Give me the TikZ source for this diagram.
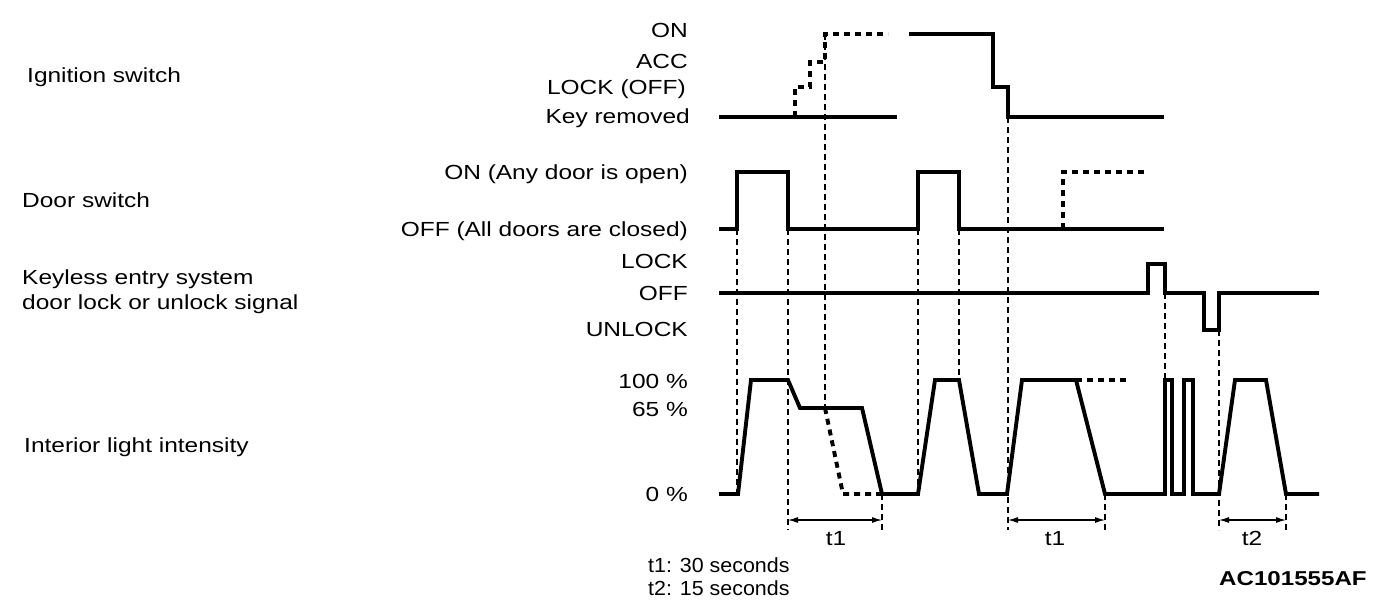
\documentclass[tikz,border=0pt]{standalone}
\usepackage{fontspec}
\setmainfont{Liberation Sans}[FakeStretch=1.2]
\newfontfamily\notefont{Liberation Sans}[FakeStretch=1.05]
\usetikzlibrary{arrows.meta}
\begin{document}
\begin{tikzpicture}[x=1pt,y=-1pt,
  sig/.style={line width=3.9pt, line join=miter, line cap=butt},
  sigdash/.style={line width=3.9pt, dash pattern=on 6pt off 5pt},
  guide/.style={line width=1.1pt, dash pattern=on 6pt off 4pt},
  dimline/.style={line width=1.1pt, {Latex[length=10pt,width=6pt]}-{Latex[length=10pt,width=6pt]}},
  txt/.style={inner sep=0pt, text height=14.6pt, text depth=0pt, font=\fontsize{20.4}{24}\selectfont},
  lvl/.style={txt, anchor=east},
  lab/.style={txt, anchor=west},
  note/.style={lab, font=\fontsize{20.4}{24}\notefont}]
\fill[white] (0,0) rectangle (1376,606);
\useasboundingbox (0,0) rectangle (1376,606);

% left labels
\node[lab] (ign) at (27,75) {Ignition switch};
\node[lab] (door) at (22,200) {Door switch};
\node[lab] (key1) at (22,277) {Keyless entry system};
\node[lab] (key2) at (22,302) {door lock or unlock signal};
\node[lab] (lite) at (24,445) {Interior light intensity};

% level labels
\node[lvl] (ion) at (688,30) {ON};
\node[lvl] (iacc) at (688,61) {ACC};
\node[lvl] (ilock) at (686,87) {LOCK (OFF)};
\node[lvl] (ikey) at (690,116) {Key removed};
\node[lvl] (don) at (688,172) {ON (Any door is open)};
\node[lvl] (doff) at (688,229) {OFF (All doors are closed)};
\node[lvl] (klock) at (688,261) {LOCK};
\node[lvl] (koff) at (688,293) {OFF};
\node[lvl] (kunl) at (688,329) {UNLOCK};
\node[lvl] (l100) at (688,381) {100 \%};
\node[lvl] (l65) at (688,409) {65 \%};
\node[lvl] (l0) at (688,494) {0 \%};

% ignition switch
\draw[sig] (719,117) -- (897,117);
\draw[sigdash] (795,117) -- (795,87) -- (810,87) -- (810,62) -- (825,62) -- (825,34) -- (888,34);
\draw[sig] (909,34) -- (993,34) -- (993,87) -- (1008,87) -- (1008,117) -- (1164,117);

% door switch
\draw[sig] (719,229) -- (737,229) -- (737,172) -- (788,172) -- (788,229) -- (918,229) -- (918,172) -- (959,172) -- (959,229) -- (1164,229);
\draw[sigdash] (1063,229) -- (1063,172) -- (1148,172);

% keyless entry
\draw[sig] (719,293) -- (1148,293) -- (1148,264) -- (1165,264) -- (1165,293) -- (1204,293) -- (1204,330) -- (1219,330) -- (1219,293) -- (1319,293);

% interior light
\draw[sig] (719,494) -- (738,494) -- (751,380) -- (788,380) -- (800,408) -- (862,408) -- (882,494) -- (918,494) -- (935,380) -- (959,380) -- (979,494) -- (1007,494) -- (1022,380) -- (1076,380) -- (1105,494) -- (1165,494) -- (1165,380) -- (1172,380) -- (1172,494) -- (1184,494) -- (1184,380) -- (1193,380) -- (1193,494) -- (1219,494) -- (1235,380) -- (1266,380) -- (1286,494) -- (1319,494);
\draw[sigdash] (825,408) -- (843,494) -- (882,494);
\draw[sigdash] (1076,380) -- (1130,380);

% guide lines
\draw[guide] (737,229) -- (737,494);
\draw[guide] (788,229) -- (788,530);
\draw[guide] (825,34) -- (825,408);
\draw[guide] (882,494) -- (882,530);
\draw[guide] (918,229) -- (918,494);
\draw[guide] (959,229) -- (959,380);
\draw[guide] (1008,117) -- (1008,530);
\draw[guide] (1105,494) -- (1105,530);
\draw[guide] (1165,293) -- (1165,380);
\draw[guide] (1219,330) -- (1219,530);
\draw[guide] (1286,494) -- (1286,530);

% dimensions
\coordinate (a1) at (788,520);
\coordinate (b1) at (882,520);
\coordinate (a2) at (1008,520);
\coordinate (b2) at (1105,520);
\coordinate (a3) at (1219,520);
\coordinate (b3) at (1286,520);
\draw[dimline] (a1) -- (b1);
\draw[dimline] (a2) -- (b2);
\draw[dimline] (a3) -- (b3);
\node[txt, anchor=center] (t1a) at (836,538) {t1};
\node[txt, anchor=center] (t1b) at (1055,538) {t1};
\node[txt, anchor=center] (t2a) at (1252,538) {t2};

\node[note] (n1) at (648,565) {t1: 30 seconds};
\node[note] (n2) at (648,588) {t2: 15 seconds};
\node[lab, font=\fontsize{20.1}{24}\selectfont\bfseries, text height=14.4pt] (code) at (1219,578) {AC101555AF};
\end{tikzpicture}
\end{document}
